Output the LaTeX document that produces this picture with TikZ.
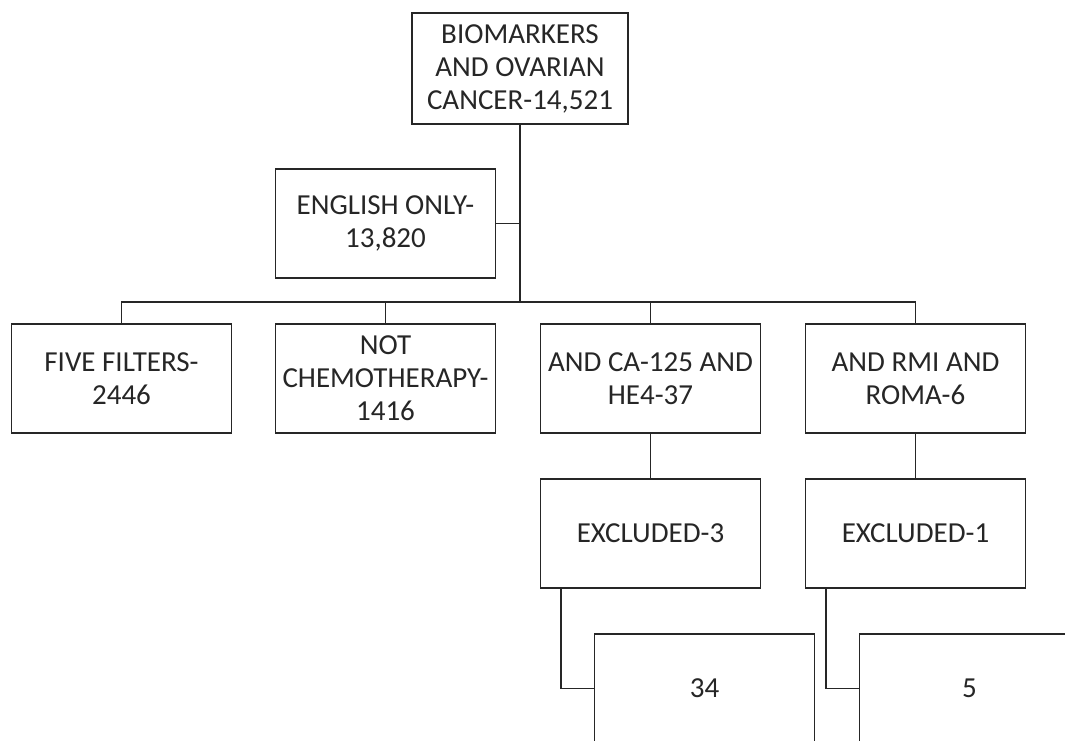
\documentclass[tikz,border=0pt]{standalone}
\usepackage{fontspec}
\setmainfont{Carlito}

\begin{document}
\begin{tikzpicture}[auto, node distance=155pt]
	%define block styles
	\tikzset{
		box/.style={rectangle, minimum width=220pt, minimum height=109pt, inner sep=0pt, align=center, draw=black!85, line width=1.6pt, text=black!85, font=\fontsize{29}{33}\selectfont},
		link/.style={draw=black!85, line width=1.6pt},
	}
	\useasboundingbox (0,0) rectangle (1065pt,-740pt);
	%define nodes
	\node[box, minimum width=216pt, minimum height=111pt](search) at (520pt,-68.5pt){BIOMARKERS\\AND OVARIAN\\CANCER-14,521};
	\node[box, below of=search, xshift=-134.5pt](english){ENGLISH ONLY-\\13,820};
	\node[box, below of=english](notchemo){NOT\\CHEMOTHERAPY-\\1416};
	\node[box, left of=notchemo, xshift=-109pt](filters){FIVE FILTERS-\\2446};
	\node[box, right of=notchemo, xshift=110pt](ca){AND CA-125 AND\\HE4-37};
	\node[box, right of=ca, xshift=110pt](rmi){AND RMI AND\\ROMA-6};
	\node[box, below of=ca](exclca){EXCLUDED-3};
	\node[box, below of=rmi](exclrmi){EXCLUDED-1};
	\node[box, below of=exclca, xshift=54pt](finalca){34};
	\node[box, below of=exclrmi, xshift=54pt](finalrmi){5};
	%define arrows
	\draw[link] (filters.north) -- ++(0,21pt) coordinate (bus) -| (rmi.north);
	\draw[link] (notchemo.north) -- (notchemo.north |- bus);
	\draw[link] (ca.north) -- (ca.north |- bus);
	\draw[link] (search.south) -- (search.south |- bus);
	\draw[link] (english.east) -- (english.east -| search.south);
	\draw[link] (ca) -- (exclca);
	\draw[link] (rmi) -- (exclrmi);
	\draw[link] ([xshift=21pt]exclca.south west) |- (finalca.west);
	\draw[link] ([xshift=21pt]exclrmi.south west) |- (finalrmi.west);
\end{tikzpicture}
\end{document}
